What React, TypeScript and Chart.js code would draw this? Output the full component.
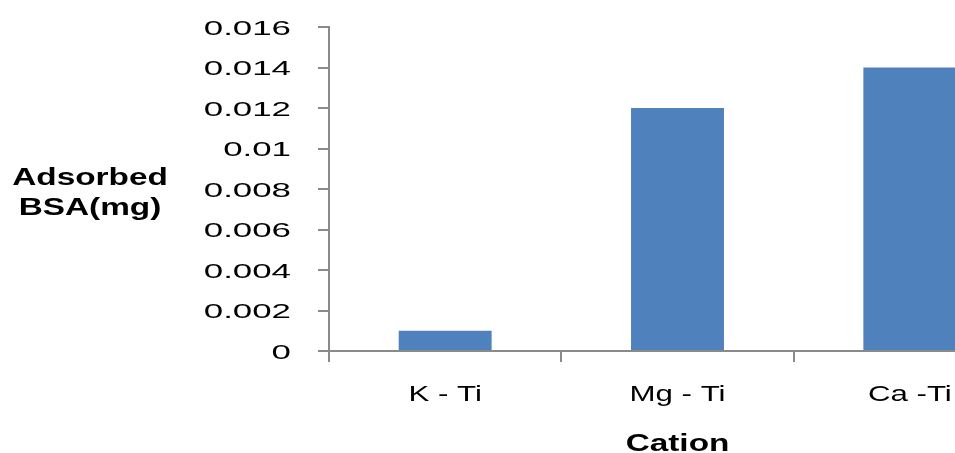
import React, { useEffect, useRef } from "react";
import { Chart, registerables } from "chart.js";

Chart.register(...registerables);

const categories = ["K - Ti", "Mg - Ti", "Ca -Ti"];
const adsorbedBSA = [0.001, 0.012, 0.014];
const yTickValues = [0, 0.002, 0.004, 0.006, 0.008, 0.01, 0.012, 0.014, 0.016];
const yTickLabels = ["0", "0.002", "0.004", "0.006", "0.008", "0.01", "0.012", "0.014", "0.016"];
const yTitleLines = ["Adsorbed", "BSA(mg)"];
const xTitle = "Cation";

const AXIS_COLOR = "#8a8a8a";
const BAR_COLOR = "#4f81bd";

const textPlugin = {
  id: "stretchedText",
  afterDraw(chart: any) {
    const { ctx, chartArea, scales } = chart;
    const x = scales.x;
    const y = scales.y;
    const draw = (text: string, px: number, py: number, align: CanvasTextAlign, font: string, sx: number) => {
      ctx.save();
      ctx.translate(px, py);
      ctx.scale(sx, 1);
      ctx.font = font;
      ctx.textAlign = align;
      ctx.textBaseline = "alphabetic";
      ctx.fillStyle = "#000";
      ctx.fillText(text, 0, 0);
      ctx.restore();
    };
    // y tick labels
    yTickValues.forEach((v, i) => {
      const py = y.getPixelForValue(v) + 7.5;
      draw(yTickLabels[i], chartArea.left - 38, py, "right", "21px 'Liberation Sans'", 1.66);
    });
    // x tick labels
    categories.forEach((c, i) => {
      draw(c, x.getPixelForValue(i), chartArea.bottom + 50, "center", "22px 'Liberation Sans'", 1.42);
    });
    // x title
    draw(xTitle, (chartArea.left + chartArea.right) / 2, chartArea.bottom + 100, "center", "bold 23px 'Liberation Sans'", 1.45);
    // y title (horizontal, two lines)
    const mid = (chartArea.top + chartArea.bottom) / 2;
    draw(yTitleLines[0], chartArea.left - 239, mid - 4, "center", "bold 23px 'Liberation Sans'", 1.45);
    draw(yTitleLines[1], chartArea.left - 239, mid + 26, "center", "bold 23px 'Liberation Sans'", 1.45);
  },
};

export default function App() {
  const canvasRef = useRef<HTMLCanvasElement | null>(null);

  useEffect(() => {
    if (!canvasRef.current) return;
    const chart = new Chart(canvasRef.current, {
      type: "bar",
      data: {
        labels: categories,
        datasets: [
          {
            label: "Adsorbed BSA (mg)",
            data: adsorbedBSA,
            backgroundColor: BAR_COLOR,
            borderWidth: 0,
            categoryPercentage: 1,
            barPercentage: 0.4,
          },
        ],
      },
      options: {
        responsive: false,
        animation: false,
        devicePixelRatio: 1,
        layout: { padding: { top: 27, right: 4, left: 0, bottom: 0 } },
        plugins: {
          legend: { display: false },
          tooltip: { enabled: false },
          title: { display: false },
        },
        scales: {
          x: {
            type: "category",
            offset: true,
            grid: {
              offset: true,
              drawOnChartArea: false,
              drawTicks: true,
              tickLength: 11,
              color: AXIS_COLOR,
              lineWidth: 2,
            },
            border: { display: true, color: AXIS_COLOR, width: 2 },
            ticks: { display: false },
            afterFit: (scale: any) => {
              scale.height = 102;
            },
          },
          y: {
            type: "linear",
            min: 0,
            max: 0.016,
            ticks: { display: false, stepSize: 0.002 },
            grid: {
              drawOnChartArea: false,
              drawTicks: true,
              tickLength: 11,
              color: AXIS_COLOR,
              lineWidth: 2,
            },
            border: { display: true, color: AXIS_COLOR, width: 2 },
            afterFit: (scale: any) => {
              scale.width = 329;
            },
          },
        },
      },
      plugins: [textPlugin],
    });
    return () => chart.destroy();
  }, []);

  return (
    <div
      style={{
        position: "fixed",
        left: 0,
        top: 0,
        width: 955,
        height: 453,
        overflow: "hidden",
        background: "#fff",
      }}
    >
      <canvas ref={canvasRef} width={1030} height={453} style={{ display: "block" }} />
    </div>
  );
}
